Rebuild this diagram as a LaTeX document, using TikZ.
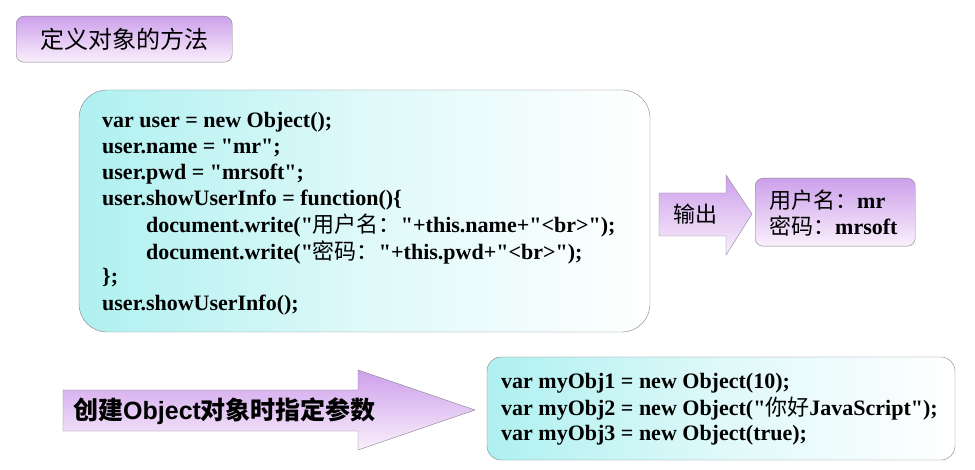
\documentclass[tikz,border=0pt]{standalone}
\usepackage{fontspec}
\setmainfont{Liberation Serif}[Ligatures=TeXOff]
\setsansfont{Liberation Sans}
\newfontfamily\cjk{Noto Sans CJK SC}
\definecolor{pur}{RGB}{205,160,235}
\definecolor{purl}{RGB}{250,240,252}
\definecolor{cy}{RGB}{175,240,240}
\definecolor{bord}{RGB}{130,130,140}
\tikzset{
  pbox/.style={draw=bord,rounded corners=8pt,top color=pur,bottom color=purl},
  cbox/.style={draw=bord,rounded corners=28pt,left color=cy,right color=white,middle color=cy!40},
  cbox2/.style={draw=bord,rounded corners=14pt,left color=cy,right color=white,middle color=cy!40},
  code/.style={anchor=west,font=\fontsize{22}{24}\selectfont\bfseries,inner sep=0pt},
}
\begin{document}
\begin{tikzpicture}[x=1pt,y=-1pt]
\useasboundingbox[fill=white] (0,0) rectangle (975,470);
% title
\node[pbox,minimum width=216pt,minimum height=46pt,anchor=north west,inner sep=0pt,font=\cjk\fontsize{24}{26}\selectfont] (title) at (16,16) {定义对象的方法};
% big code box
\draw[cbox] (79,90) rectangle (650,332);
\node[code] (l1) at (102,122) {var user = new Object();};
\node[code] (l2) at (102,148) {user.name = "mr";};
\node[code] (l3) at (102,174) {user.pwd = "mrsoft";};
\node[code] (l4) at (102,200) {user.showUserInfo = function()\{};
\node[code] (l5) at (146,226) {document.write("{\cjk\mdseries 用户名：}"+this.name+"<br>");};
\node[code] (l6) at (146,252) {document.write("{\cjk\mdseries 密码：}"+this.pwd+"<br>");};
\node[code] (l7) at (102,278) {\};};
\node[code] (l8) at (102,305) {user.showUserInfo();};
% output arrow
\draw[bord,top color=pur,bottom color=purl] (659,193) -- (726,193) -- (726,175) -- (752,214) -- (726,255) -- (726,236) -- (659,236) -- cycle;
\node[font=\cjk\fontsize{22}{24}\selectfont] (out) at (695,214) {输出};
% result
\node[pbox,minimum width=160pt,minimum height=68pt,anchor=north west,inner sep=0pt] (res) at (755,178) {};
\node[code] (r1) at (769,200) {{\cjk\mdseries 用户名：}mr};
\node[code] (r2) at (769,226) {{\cjk\mdseries 密码：}mrsoft};
% big arrow
\draw[bord,top color=pur,bottom color=purl] (63,390) -- (358,390) -- (358,370) -- (475,410) -- (358,450) -- (358,431) -- (63,431) -- cycle;
\node[anchor=west,inner sep=0pt,font=\fontsize{25}{26}\selectfont] (arr) at (73,411) {{\cjk\bfseries 创建}{\sffamily\bfseries Object}{\cjk\bfseries 对象时指定参数}};
% bottom code box
\draw[cbox2] (487,357) rectangle (955,460);
\node[code] (b1) at (501,383) {var myObj1 = new Object(10);};
\node[code] (b2) at (501,409) {var myObj2 = new Object("{\cjk\mdseries 你好}JavaScript");};
\node[code] (b3) at (501,435) {var myObj3 = new Object(true);};
\end{tikzpicture}
\end{document}
